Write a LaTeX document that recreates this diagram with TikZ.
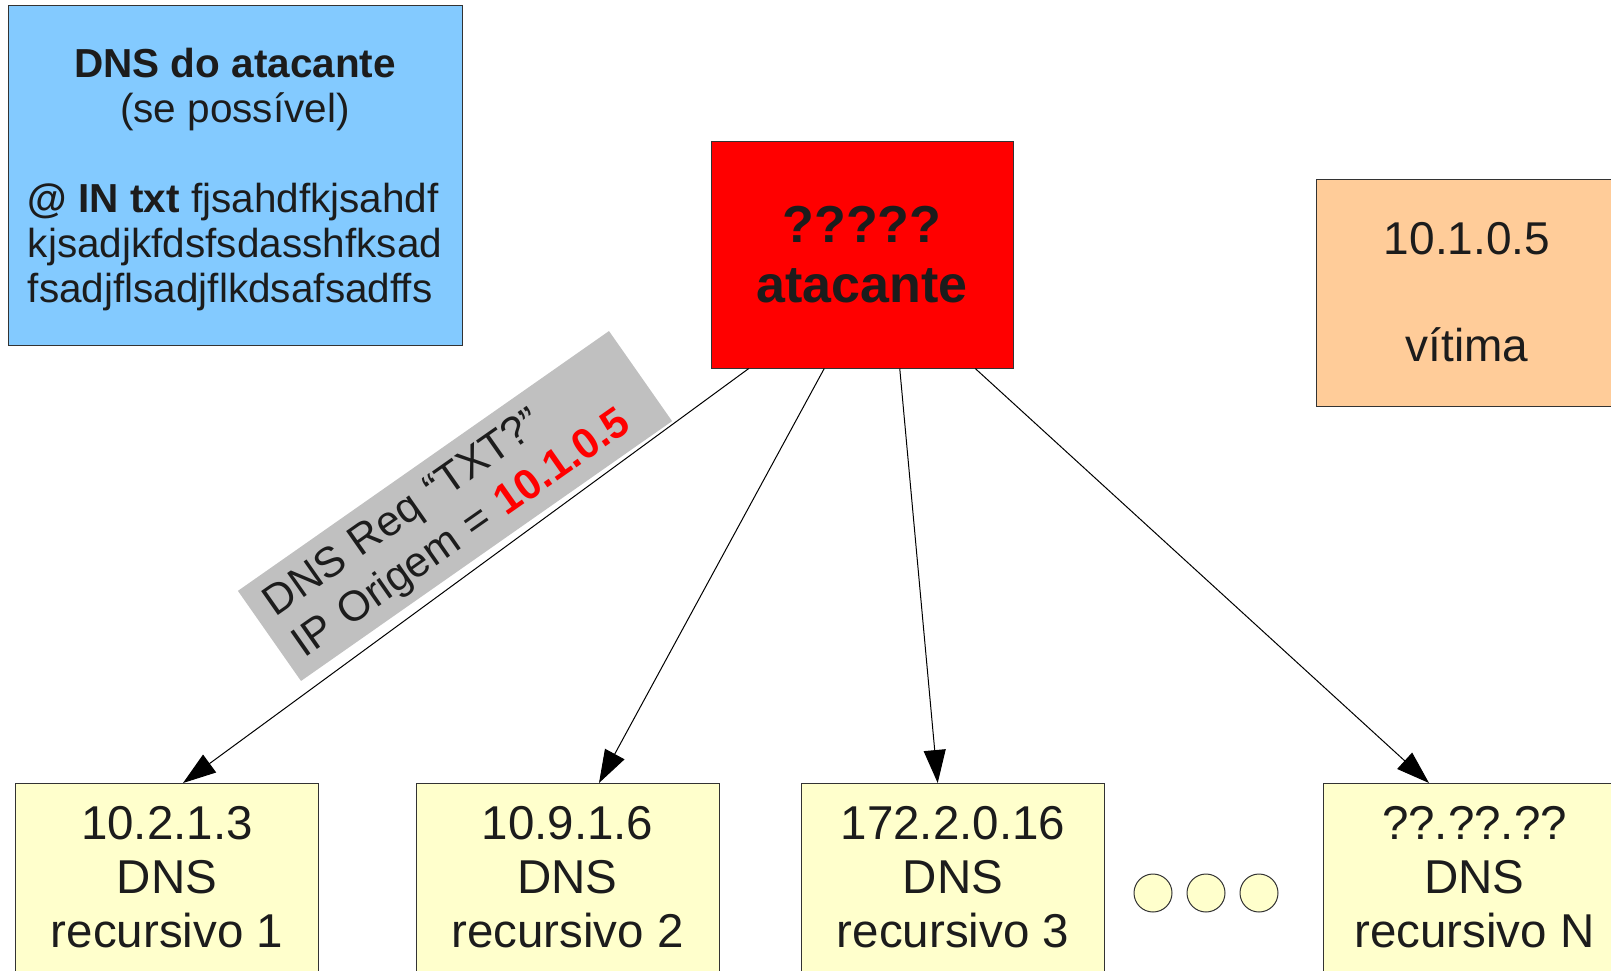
\documentclass[tikz,border=0pt]{standalone}
\usepackage{fontspec}
\setmainfont{Liberation Sans}
\usetikzlibrary{arrows.meta,calc}
\definecolor{boxblue}{HTML}{83CAFF}
\definecolor{boxorange}{HTML}{FFCC99}
\definecolor{boxyellow}{HTML}{FFFFCC}
\definecolor{labelgray}{HTML}{C0C0C0}
\definecolor{txt}{HTML}{1C1C1C}
\definecolor{edge}{HTML}{333333}
\tikzset{
  box/.style={draw=edge, line width=1pt, rectangle, inner sep=0pt, align=center, text=txt},
  dnsbox/.style={box, fill=boxyellow, minimum width=303pt, minimum height=187.5pt,
    font=\fontsize{47.5}{54}\selectfont},
  dots/.style={circle, draw=edge, line width=1pt, fill=boxyellow, minimum size=38pt, inner sep=0pt},
  conn/.style={line width=1pt, -{Triangle[length=33pt,width=22pt]}},
}
\begin{document}
\begin{tikzpicture}[x=1pt,y=-1pt]
\useasboundingbox (0,0) rectangle (1611,970);
\clip (0,0) rectangle (1611,970);

\node[box, fill=boxblue, minimum width=454pt, minimum height=340pt] (dnsat) at (235,175) {};
\node[text=txt, align=center, inner sep=0pt, font=\fontsize{40.5}{45}\selectfont] (dnstxt)
  at ($(dnsat.center)+(0,7)$)
  {\textbf{DNS do atacante}\\(se possível)\\\mbox{}\\%
   \begin{tabular}[t]{@{}l@{}}\textbf{@ IN txt} fjsahdfkjsahdf\\kjsadjkfdsfsdasshfksad\\fsadjflsadjflkdsafsadffs\end{tabular}};

\node[box, fill=red, minimum width=302pt, minimum height=227pt,
  font=\fontsize{52}{60}\selectfont\bfseries] (atk) at (862,254.5)
  {?????\\atacante};

\node[box, fill=boxorange, minimum width=302pt, minimum height=227pt,
  font=\fontsize{46}{53.5}\selectfont] (vit) at (1467,292.5)
  {10.1.0.5\\\mbox{}\\vítima};

\node[dnsbox] (r1) at (167,877.25) {10.2.1.3\\DNS\\recursivo 1};
\node[dnsbox] (r2) at (567.5,877.25) {10.9.1.6\\DNS\\recursivo 2};
\node[dnsbox] (r3) at (953,877.25) {172.2.0.16\\DNS\\recursivo 3};
\node[dnsbox] (rn) at (1474.5,877.25) {??.??.??\\DNS\\recursivo N};

\node[dots] (d1) at (1153,893) {};
\node[dots] (d2) at (1206,893) {};
\node[dots] (d3) at (1259,893) {};

\draw[conn] ([xshift=-113.25pt]atk.south) -- ([xshift=16pt]r1.north);
\draw[conn] ([xshift=-37.75pt]atk.south) -- ([xshift=31.5pt]r2.north);
\draw[conn] ([xshift=37.75pt]atk.south) -- ([xshift=-15.3pt]r3.north);
\draw[conn] ([xshift=113.25pt]atk.south) -- ([xshift=-45.5pt]rn.north);

\node[fill=labelgray, rotate=35, minimum width=453pt, minimum height=110pt, inner sep=0pt] (lbl) at (455,506) {};
\node[rotate=35, inner xsep=16pt, inner ysep=0pt, text width=421pt, align=left, text=txt,
  font=\fontsize{42.5}{50}\selectfont] (lbltxt) at ($(lbl.center)+(1.7,2.5)$)
  {DNS Req “TXT?”\\IP Origem = {\color{red}\bfseries 10.1.0.5}};
\end{tikzpicture}
\end{document}
